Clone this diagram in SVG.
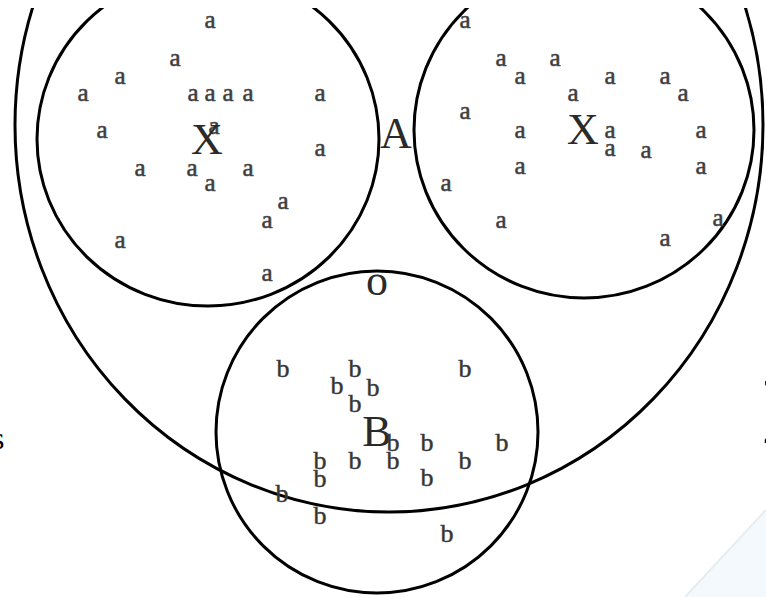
<svg xmlns="http://www.w3.org/2000/svg" width="766" height="597" viewBox="0 0 766 597">
<style>
.c{fill:none;stroke:#000;stroke-width:3}
.a{font-family:"Liberation Serif",serif;font-size:25px;fill:#3a3a3a;stroke:#4a4a4a;stroke-width:0.6;text-anchor:middle}
.b{font-family:"Liberation Serif",serif;font-size:26px;fill:#333;stroke:#444;stroke-width:0.5;text-anchor:middle}
.L{font-family:"Liberation Serif",serif;font-size:44px;fill:#2a2a2a;text-anchor:middle}
.e{font-family:"Liberation Serif",serif;fill:#000}
</style>
<defs>
<clipPath id="top"><rect x="0" y="8" width="766" height="589"/></clipPath>
</defs>
<rect width="766" height="597" fill="#fff"/>
<g id="bg">
<polygon points="685,597 766,510 766,597" fill="#f3f9fc"/>
<line x1="685" y1="597" x2="766" y2="510" stroke="#e6ecef" stroke-width="2"/>
</g>
<g id="connectors" clip-path="url(#top)">
<ellipse id="outer" class="c" cx="389" cy="125" rx="374" ry="387"/>
<ellipse id="X1" class="c" cx="208" cy="139" rx="171" ry="167"/>
<ellipse id="X2" class="c" cx="584" cy="130" rx="170" ry="168"/>
<circle id="Bc" class="c" cx="377" cy="432" r="161"/>
</g>
<g id="nodeX1">
<text class="a" x="210" y="28">a</text>
<text class="a" x="175" y="66">a</text>
<text class="a" x="120" y="84">a</text>
<text class="a" x="83" y="101">a</text>
<text class="a" x="193" y="101">a</text>
<text class="a" x="210" y="101">a</text>
<text class="a" x="228" y="101">a</text>
<text class="a" x="248" y="101">a</text>
<text class="a" x="320" y="101">a</text>
<text class="a" x="102" y="138">a</text>
<text class="a" x="214" y="134">a</text>
<text class="a" x="320" y="156">a</text>
<text class="a" x="140" y="176">a</text>
<text class="a" x="192" y="176">a</text>
<text class="a" x="248" y="176">a</text>
<text class="a" x="210" y="191">a</text>
<text class="a" x="283" y="209">a</text>
<text class="a" x="267" y="228">a</text>
<text class="a" x="120" y="248">a</text>
<text class="a" x="267" y="281">a</text>
<text class="L" x="207" y="154">X</text>
</g>
<g id="nodeX2">
<text class="a" x="465" y="28">a</text>
<text class="a" x="501" y="66">a</text>
<text class="a" x="555" y="66">a</text>
<text class="a" x="520" y="84">a</text>
<text class="a" x="610" y="84">a</text>
<text class="a" x="665" y="84">a</text>
<text class="a" x="573" y="101">a</text>
<text class="a" x="683" y="101">a</text>
<text class="a" x="465" y="119">a</text>
<text class="a" x="520" y="138">a</text>
<text class="a" x="610" y="138">a</text>
<text class="a" x="701" y="138">a</text>
<text class="a" x="610" y="156">a</text>
<text class="a" x="646" y="158">a</text>
<text class="a" x="520" y="174">a</text>
<text class="a" x="701" y="174">a</text>
<text class="a" x="446" y="191">a</text>
<text class="a" x="501" y="228">a</text>
<text class="a" x="718" y="226">a</text>
<text class="a" x="665" y="246">a</text>
<text class="L" x="583" y="144">X</text>
</g>
<g id="nodeA">
<text class="L" x="396" y="148">A</text>
<text class="L" x="377" y="295">o</text>
</g>
<g id="nodeB">
<text class="b" x="283" y="377">b</text>
<text class="b" x="355" y="377">b</text>
<text class="b" x="337" y="394">b</text>
<text class="b" x="373" y="396">b</text>
<text class="b" x="355" y="412">b</text>
<text class="b" x="465" y="377">b</text>
<text class="L" x="377" y="446">B</text>
<text class="b" x="393" y="451">b</text>
<text class="b" x="427" y="451">b</text>
<text class="b" x="502" y="451">b</text>
<text class="b" x="320" y="469">b</text>
<text class="b" x="355" y="469">b</text>
<text class="b" x="393" y="469">b</text>
<text class="b" x="465" y="469">b</text>
<text class="b" x="320" y="487">b</text>
<text class="b" x="427" y="486">b</text>
<text class="b" x="282" y="502">b</text>
<text class="b" x="320" y="524">b</text>
<text class="b" x="447" y="542">b</text>
</g>
<g id="edges">
<text class="e" x="-8" y="449" font-size="32">s</text>
<text class="e" x="761" y="444" font-size="96">Σ</text>
</g>
</svg>
